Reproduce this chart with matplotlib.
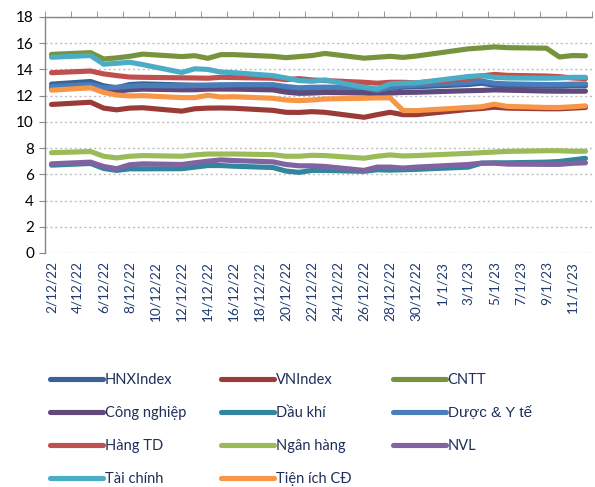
import datetime as dt
import matplotlib
matplotlib.use('Agg')
import matplotlib.pyplot as plt
import matplotlib.dates as mdates

# trading days (2/12/22 - 12/1/23)
dates = ['2022-12-02', '2022-12-05', '2022-12-06', '2022-12-07', '2022-12-08', '2022-12-09',
         '2022-12-12', '2022-12-13', '2022-12-14', '2022-12-15', '2022-12-16',
         '2022-12-19', '2022-12-20', '2022-12-21', '2022-12-22', '2022-12-23',
         '2022-12-26', '2022-12-27', '2022-12-28', '2022-12-29', '2022-12-30',
         '2023-01-03', '2023-01-04', '2023-01-05', '2023-01-06',
         '2023-01-09', '2023-01-10', '2023-01-11', '2023-01-12']

hnx = [12.88, 13.08, 12.75, 12.6, 12.85, 12.9, 12.82, 12.8, 12.8, 12.82, 12.8, 12.78, 12.62, 12.52, 12.55,
       12.58, 12.55, 12.35, 12.55, 12.65, 12.68, 12.85, 12.95, 12.8, 12.75, 12.72, 12.72, 12.75, 12.75]
vni = [11.33, 11.5, 11.05, 10.92, 11.05, 11.08, 10.82, 11.0, 11.05, 11.06, 11.04, 10.88, 10.73, 10.72, 10.78,
       10.73, 10.35, 10.55, 10.73, 10.55, 10.55, 10.95, 11.02, 11.12, 11.05, 11.0, 11.0, 11.05, 11.1]
cntt = [15.15, 15.28, 14.8, 14.88, 15.0, 15.17, 14.98, 15.05, 14.85, 15.13, 15.13, 15.0, 14.9, 14.98, 15.06,
        15.22, 14.86, 14.93, 15.0, 14.92, 15.02, 15.57, 15.64, 15.72, 15.66, 15.62, 14.95, 15.06, 15.04]
cong_nghiep = [12.6, 12.7, 12.45, 12.35, 12.45, 12.5, 12.45, 12.45, 12.5, 12.5, 12.5, 12.44, 12.27, 12.18, 12.2,
               12.25, 12.2, 12.13, 12.2, 12.25, 12.26, 12.38, 12.4, 12.44, 12.42, 12.35, 12.34, 12.34, 12.34]
dau_khi = [6.7, 6.83, 6.45, 6.3, 6.42, 6.42, 6.43, 6.55, 6.67, 6.67, 6.62, 6.52, 6.25, 6.15, 6.3,
           6.3, 6.23, 6.35, 6.32, 6.35, 6.38, 6.55, 6.85, 6.88, 6.88, 6.93, 6.98, 7.1, 7.22]
duoc = [12.7, 12.85, 12.6, 12.64, 12.72, 12.77, 12.75, 12.77, 12.78, 12.8, 12.84, 12.84, 12.7, 12.6, 12.64,
        12.65, 12.62, 12.4, 12.62, 12.75, 12.8, 13.0, 13.12, 12.95, 12.9, 12.85, 12.85, 12.88, 12.9]
hang_td = [13.75, 13.88, 13.66, 13.53, 13.42, 13.4, 13.36, 13.35, 13.33, 13.4, 13.38, 13.33, 13.22, 13.3, 13.2,
           13.15, 13.02, 12.95, 13.02, 13.02, 12.98, 13.3, 13.5, 13.62, 13.55, 13.5, 13.45, 13.35, 13.3]
ngan_hang = [7.65, 7.74, 7.38, 7.25, 7.38, 7.43, 7.38, 7.48, 7.55, 7.55, 7.55, 7.5, 7.38, 7.38, 7.45,
             7.43, 7.23, 7.38, 7.48, 7.4, 7.43, 7.6, 7.65, 7.7, 7.75, 7.8, 7.8, 7.76, 7.76]
nvl = [6.8, 6.93, 6.6, 6.43, 6.73, 6.8, 6.75, 6.88, 7.0, 7.1, 7.05, 6.95, 6.75, 6.65, 6.65,
       6.6, 6.3, 6.55, 6.55, 6.48, 6.55, 6.75, 6.85, 6.85, 6.78, 6.76, 6.76, 6.84, 6.88]
tai_chinh = [14.93, 15.06, 14.4, 14.47, 14.55, 14.37, 13.77, 14.05, 14.0, 13.8, 13.75, 13.53, 13.35, 13.15, 13.1,
             13.2, 12.64, 12.51, 12.9, 12.95, 12.97, 13.46, 13.53, 13.4, 13.35, 13.33, 13.35, 13.4, 13.4]
tien_ich = [12.42, 12.6, 12.25, 12.05, 11.98, 12.0, 11.85, 11.85, 12.03, 11.9, 11.92, 11.8, 11.67, 11.62, 11.67,
            11.75, 11.8, 11.83, 11.83, 10.86, 10.86, 11.1, 11.15, 11.35, 11.18, 11.1, 11.1, 11.15, 11.22]

names = ['HNXIndex', 'VNIndex', 'CNTT', 'Công nghiệp', 'Dầu khí', 'Dược & Y tế',
         'Hàng TD', 'Ngân hàng', 'NVL', 'Tài chính', 'Tiện ích CĐ']
series = [hnx, vni, cntt, cong_nghiep, dau_khi, duoc, hang_td, ngan_hang, nvl, tai_chinh, tien_ich]
colors = ['#3B6296', '#9A3B38', '#77933C', '#604A7B', '#31859C', '#4A7EBB',
          '#C0504D', '#9BBB59', '#8064A2', '#4BACC6', '#F79646']

tick_labels = ['2/12/22', '4/12/22', '6/12/22', '8/12/22', '10/12/22', '12/12/22', '14/12/22',
               '16/12/22', '18/12/22', '20/12/22', '22/12/22', '24/12/22', '26/12/22', '28/12/22',
               '30/12/22', '1/1/23', '3/1/23', '5/1/23', '7/1/23', '9/1/23', '11/1/23']

x = [dt.datetime.strptime(d, '%Y-%m-%d') for d in dates]
start = mdates.date2num(x[0])

fig = plt.figure(figsize=(5.95, 4.87), dpi=100)
ax = fig.add_axes([45/595, 1-253/487, 547/595, 236/487])

lines = []
for name, vals, c in zip(names, series, colors):
    l, = ax.plot(x, vals, color=c, lw=3.7, solid_joinstyle='round', solid_capstyle='round', label=name)
    lines.append(l)

ax.set_ylim(0, 18)
ax.set_yticks(range(0, 19, 2))
ax.set_xlim(start - 0.5, start + 41.5)

# labels every 2 days, tick marks between categories on the top line
ax.set_xticks([start + 2*i for i in range(len(tick_labels))])
ax.set_xticklabels(tick_labels, rotation=90, fontsize=9.8, color='#1F3A6E', family='Lato')
ax.set_xticks([start - 0.5 + 2*i for i in range(22)], minor=True)
ax.tick_params(axis='x', which='major', length=0, pad=6)
ax.tick_params(axis='x', which='minor', top=True, bottom=False, direction='out', length=4, color='#868686')
ax.tick_params(axis='y', length=4, color='#868686', labelsize=11, pad=4)
for t in ax.get_yticklabels():
    t.set_family('Lato')

ax.grid(axis='y', linestyle=(0, (1.5, 2)), color='#BFBFBF', lw=1)
ax.set_axisbelow(True)
for s in ['right', 'bottom']:
    ax.spines[s].set_visible(False)
for s in ['left', 'top']:
    ax.spines[s].set_color('#868686')
    ax.spines[s].set_linewidth(1)

# legend: three columns like the excel layout
cols = [[0, 3, 6, 9], [1, 4, 7, 10], [2, 5, 8]]
xpos = [50/595, 221/595, 393/595]
for xp, idx in zip(xpos, cols):
    leg = fig.legend([lines[i] for i in idx], [names[i] for i in idx], loc='upper left',
                     bbox_to_anchor=(xp, 1-373/487), frameon=False, handlelength=3.6,
                     handletextpad=0.15, labelspacing=1.3, prop={'family': 'Lato', 'size': 10.5},
                     borderaxespad=0, borderpad=0)
    for t in leg.get_texts():
        t.set_color('#1F2F5A')
        if t.get_text() == 'Dược & Y tế':
            t.set_family('Liberation Sans')
            t.set_fontsize(11)
    for h in leg.legend_handles:
        h.set_linewidth(3.7)
        h.set_solid_capstyle('round')

fig.savefig('out.png', dpi=100)
